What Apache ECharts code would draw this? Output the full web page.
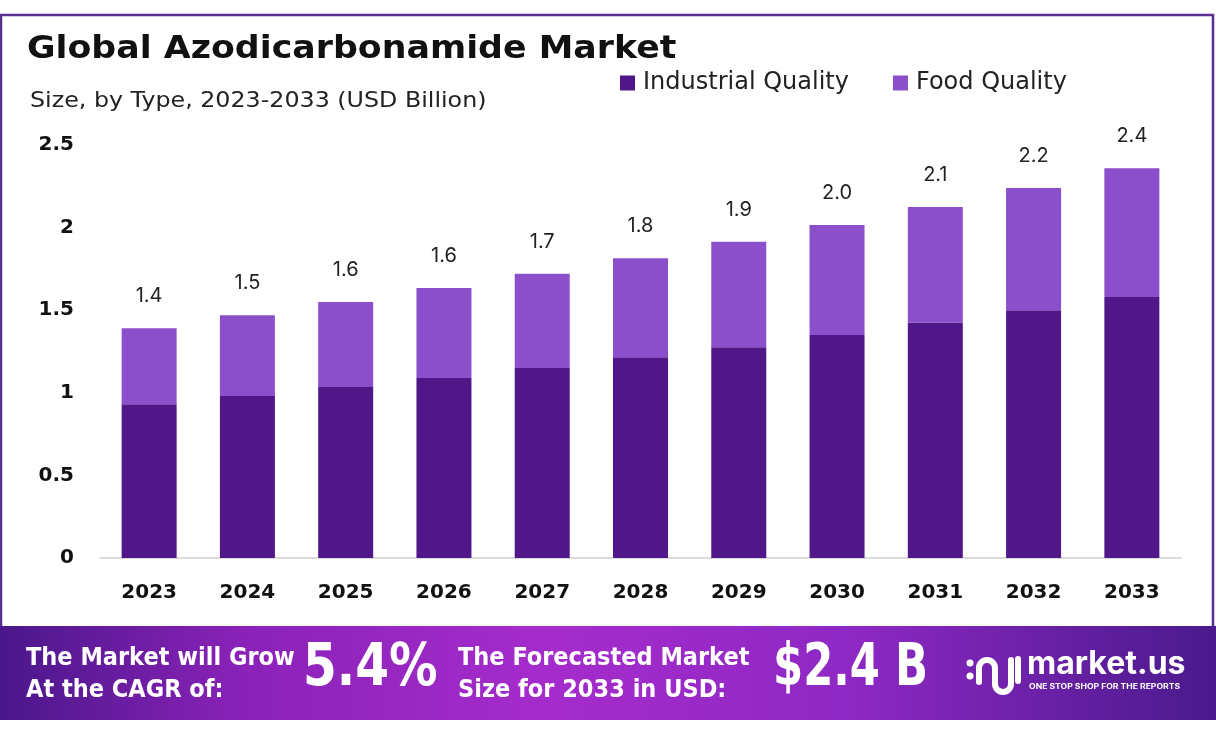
<!DOCTYPE html>
<html>
<head>
<meta charset="utf-8">
<script src="https://cdn.jsdelivr.net/npm/echarts@6/dist/echarts.min.js"></script>
<style>
html,body{margin:0;padding:0;background:#fff;}
#c{width:1216px;height:734px;}
</style>
</head>
<body>
<div id="c"></div>
<script>
const years = ['2023','2024','2025','2026','2027','2028','2029','2030','2031','2032','2033'];
const industrialQuality = [0.93, 0.98, 1.035, 1.09, 1.15, 1.215, 1.275, 1.35, 1.425, 1.50, 1.58];
const foodQuality = [0.46, 0.49, 0.515, 0.545, 0.57, 0.60, 0.64, 0.665, 0.70, 0.74, 0.78];
const totalLabels = ['1.4','1.5','1.6','1.6','1.7','1.8','1.9','2.0','2.1','2.2','2.4'];
const yTicks = [0, 0.5, 1, 1.5, 2, 2.5];

const chart = echarts.init(document.getElementById('c'), null, {renderer:'canvas'});
const BODY = 'Inter, "Open Sans", sans-serif';
const WIDE = '"DejaVu Sans", sans-serif';
const COND = '"Liberation Sans Narrow", "DejaVu Sans Condensed", sans-serif';

function txt(x, y, text, font, extra, sx, z) {
  return {type: 'text', x: x, y: y, z: z || 11, scaleX: sx || 1,
    style: Object.assign({text: text, fill: '#fff', font: font, verticalAlign: 'top'}, extra || {})};
}
const shadow = {shadowColor: 'rgba(40,0,60,0.6)', shadowBlur: 6, shadowOffsetX: 3, shadowOffsetY: 3};

const option = {
  backgroundColor: '#ffffff',
  animation: false,
  legend: {
    left: 615, top: 66, icon: 'rect', itemWidth: 15, itemHeight: 15, itemGap: 44,
    textStyle: {fontFamily: WIDE, fontSize: 24, color: '#222', padding: [0,0,0,3]},
    data: ['Industrial Quality', 'Food Quality']
  },
  grid: {left: 100, right: 35, top: 145, bottom: 176, containLabel: false},
  xAxis: {
    type: 'category', data: years,
    axisLine: {show: true, lineStyle: {color: '#d0d0d0', width: 1.5}},
    axisTick: {show: false},
    axisLabel: {fontFamily: WIDE, fontSize: 20, fontWeight: 'bold', color: '#111', margin: 25}
  },
  yAxis: {
    type: 'value', min: 0, max: 2.5, interval: 0.5,
    splitLine: {show: false},
    axisLine: {show: false}, axisTick: {show: false},
    axisLabel: {fontFamily: WIDE, fontSize: 20, fontWeight: 'bold', color: '#111', margin: 26,
      formatter: v => yTicks.includes(v) ? String(v) : ''}
  },
  series: [
    {name: 'Industrial Quality', type: 'bar', stack: 'total', barWidth: 55,
     itemStyle: {color: '#4f1787'}, data: industrialQuality},
    {name: 'Food Quality', type: 'bar', stack: 'total', barWidth: 55,
     itemStyle: {color: '#8b4fcb'}, data: foodQuality,
     label: {show: true, position: 'top', distance: 22, fontFamily: BODY, fontSize: 20, color: '#222',
       formatter: p => totalLabels[p.dataIndex]}}
  ],
  graphic: [
    {type: 'rect', shape: {x: 1, y: 15, width: 1212, height: 615}, z: -1,
     style: {fill: 'none', stroke: '#5a2d8e', lineWidth: 2.5}},
    txt(27, 34, 'Global Azodicarbonamide Market', 'bold 32px ' + WIDE, {fill: '#111'}, 1.087, 5),
    txt(30, 90, 'Size, by Type, 2023-2033 (USD Billion)', '22px ' + WIDE, {fill: '#222'}, 1.08, 5),
    {type: 'rect', shape: {x: 0, y: 626, width: 1216, height: 94}, z: 10,
     style: {fill: new echarts.graphic.LinearGradient(0, 0, 1, 0, [
       {offset: 0, color: '#4a178a'},
       {offset: 0.2, color: '#8a22b8'},
       {offset: 0.45, color: '#a52ccc'},
       {offset: 0.7, color: '#8e28c4'},
       {offset: 1, color: '#4a1a8c'}
     ])}},
    txt(26, 642, 'The Market will Grow\nAt the CAGR of:', 'bold 25px ' + COND, {lineHeight: 32}),
    txt(303, 641, '5.4%', 'bold 58px ' + COND, shadow, 0.93),
    txt(458, 642, 'The Forecasted Market\nSize for 2033 in USD:', 'bold 25px ' + COND, {lineHeight: 32}),
    txt(773, 641, '$2.4 B', 'bold 58px ' + COND, shadow, 0.83),
    {type: 'circle', shape: {cx: 970, cy: 663, r: 3.5}, z: 11, style: {fill: '#fff'}},
    {type: 'circle', shape: {cx: 970, cy: 676, r: 3.5}, z: 11, style: {fill: '#fff'}},
    {type: 'arc', shape: {cx: 987, cy: 668, r: 8, startAngle: Math.PI, endAngle: 0, clockwise: true}, z: 11,
     style: {stroke: '#fff', lineWidth: 6, fill: 'none'}},
    {type: 'line', shape: {x1: 979, y1: 668, x2: 979, y2: 682}, z: 11, style: {stroke: '#fff', lineWidth: 6, lineCap: 'round'}},
    {type: 'line', shape: {x1: 995, y1: 668, x2: 995, y2: 684}, z: 11, style: {stroke: '#fff', lineWidth: 6}},
    {type: 'arc', shape: {cx: 1003, cy: 684, r: 8, startAngle: Math.PI, endAngle: 0, clockwise: false}, z: 11,
     style: {stroke: '#fff', lineWidth: 6, fill: 'none'}},
    {type: 'line', shape: {x1: 1011, y1: 684, x2: 1011, y2: 660}, z: 11, style: {stroke: '#fff', lineWidth: 6, lineCap: 'round'}},
    {type: 'rect', shape: {x: 1015, y: 656, width: 6, height: 28, r: 3}, z: 11, style: {fill: '#fff'}},
    txt(1027, 648, 'market.us', 'bold 32px ' + BODY),
    txt(1029, 683, 'ONE STOP SHOP FOR THE REPORTS', 'bold 7px ' + BODY, {}, 1.23)
  ]
};
chart.setOption(option);
</script>
</body>
</html>
